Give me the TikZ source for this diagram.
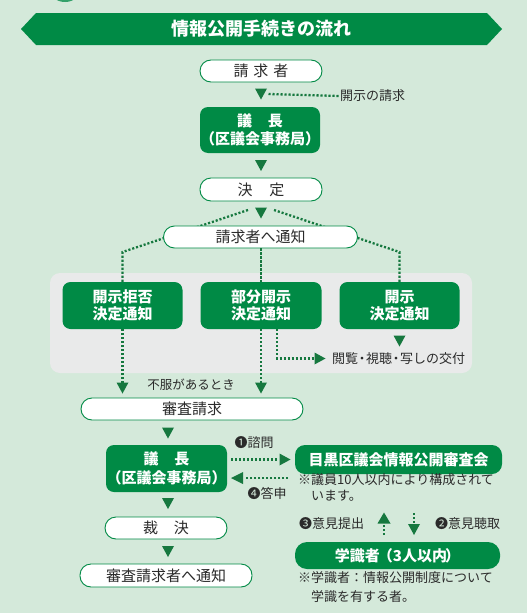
\documentclass[tikz,border=0pt]{standalone}
\usepackage{fontspec}
\setmainfont{Noto Sans CJK JP}
\usetikzlibrary{calc}
\definecolor{bg}{HTML}{D4E9DA}
\definecolor{gr}{HTML}{008A45}
\definecolor{dg}{HTML}{16783F}
\definecolor{panel}{HTML}{E9EAEA}
\definecolor{txt}{HTML}{2A2A2A}
\tikzset{
 wbox/.style={draw=gr, line width=0.9pt, fill=white, rounded corners=11pt, inner sep=0pt, text=txt, font=\fontsize{15}{17}\selectfont},
 gbox/.style={fill=gr, rounded corners=8pt, inner sep=0pt, text=white, align=center, font=\bfseries\fontsize{15}{17}\selectfont},
 dots/.style={dg, line width=2.3pt, dash pattern=on 2.1pt off 1.9pt},
 lbl/.style={text=txt, inner sep=0pt, font=\fontsize{13}{15}\selectfont},
}
\newcommand\mytrid[2]{\fill[dg] (#1-6,#2-5.5) -- (#1+6,#2-5.5) -- (#1,#2+5.5) -- cycle;}
\newcommand\mytriu[2]{\fill[dg] (#1-6.5,#2+5.5) -- (#1+6.5,#2+5.5) -- (#1,#2-5.5) -- cycle;}
\newcommand\mytrir[2]{\fill[dg] (#1-5.5,#2-6) -- (#1-5.5,#2+6) -- (#1+5.5,#2) -- cycle;}
\newcommand\mytril[2]{\fill[dg] (#1+6,#2-6) -- (#1+6,#2+6) -- (#1-6,#2) -- cycle;}
\begin{document}
\begin{tikzpicture}[x=1pt,y=-1pt]
\fill[bg] (0,0) rectangle (527,613);
\useasboundingbox (0,0) rectangle (527,613);
\fill[gr!80!white] (65,-12) ellipse (16 and 14);
% title banner
\fill[gr] (21,29) -- (36,13) -- (487,13) -- (502,29) -- (487,45) -- (36,45) -- cycle;
\node[text=white, inner sep=0pt, font=\bfseries\fontsize{18}{20}\selectfont] (title) at (261,29) {情報公開手続きの流れ};

% top chain
\node[wbox, minimum width=122, minimum height=22] (req) at (261,71) {請\hspace{5pt}求\hspace{5pt}者};
\mytrid{261}{94}
\node[lbl, anchor=west] (reqlbl) at (340,96) {開示の請求};
\draw[dots] (268.5,94) -- (reqlbl.west);
\node[gbox, minimum width=120, minimum height=46] (chair) at (260,130) {議\hspace{16pt}長\\[1pt]（区議会事務局）};
\mytrid{261}{165.5}
\node[wbox, minimum width=122, minimum height=23] (dec) at (261,189.5) {決\hspace{17pt}定};
\mytrid{261}{213}

% panel
\fill[panel, rounded corners=10pt] (50,273) rectangle (472,373);

% branch lines (behind notify box)
\coordinate (ls) at (248,210);
\coordinate (rs) at (274,210);
\coordinate (lc) at (122.5,252);
\coordinate (rc) at (399.5,252);
\node[gbox, minimum width=120, minimum height=47] (refuse) at (122.5,305.5) {開示拒否\\決定通知};
\node[gbox, minimum width=121, minimum height=47] (part) at (261,305.5) {部分開示\\決定通知};
\node[gbox, minimum width=120, minimum height=47] (disc) at (399.5,305.5) {開示\\決定通知};
\draw[dots] (ls) -- (lc) -- (refuse.north);
\draw[dots] (rs) -- (rc) -- (disc.north);
\node[wbox, minimum width=194, minimum height=22] (notify) at (260.5,237) {請求者へ通知};
\draw[dots] (notify.south -| part.north) -- (part.north);

% under panel boxes
\mytrid{399.5}{341}
\node[lbl, anchor=west] (view) at (332,359) {閲覧\kern-2.5pt・\kern-2.5pt視聴\kern-2.5pt・\kern-2.5pt写しの交付};
\coordinate (vc) at (277,358.5);
\coordinate (vt) at (315,358.5);
\draw[dots] (part.south -| vc) -- (vc) -- (vt);
\mytrir{320}{358.5}

\node[wbox, minimum width=222, minimum height=22] (exam) at (192,409) {審査請求};
\coordinate (ea) at (122.5,383);
\coordinate (eb) at (261,383);
\draw[dots] (refuse.south) -- (ea);
\draw[dots] (part.south) -- (eb);
\mytrid{122.5}{388}
\mytrid{261}{388}
\node[lbl, font=\fontsize{12.5}{14}\selectfont] (dissat) at (191,385) {不服があるとき};

% lower chain
\mytrid{168}{433}
\node[gbox, minimum width=121, minimum height=47] (chair2) at (166.5,468.5) {議\hspace{16pt}長\\[2pt]（区議会事務局）};
\node[gbox, rounded corners=10pt, minimum width=207, minimum height=29] (council) at (398.5,459.5) {目黒区議会情報公開審査会};
\coordinate (r1) at (279,459.5);
\draw[dots] ([xshift=4pt]chair2.east |- council.west) -- (r1);
\mytrir{285}{459.5}
\node[lbl] (q1) at (254,443) {❶諮問};
\coordinate (l1s) at (288,478);
\coordinate (l1e) at (245,478);
\draw[dots] (l1s) -- (l1e);
\mytril{237}{478}
\node[lbl] (a4) at (267,493) {❹答申};
\node[lbl, anchor=north west, align=left, font=\fontsize{13}{16}\selectfont] (note1) at (298,473) {※議員10人以内により構成されて\\\hspace{13pt}います。};

\mytrid{168}{503.5}
\node[wbox, minimum width=122, minimum height=22] (verdict) at (166,528) {裁\hspace{16pt}決};
\mytrid{168}{551.5}
\node[wbox, minimum width=172, minimum height=23] (notify2) at (166,575.5) {審査請求者へ通知};

\node[gbox, rounded corners=12pt, minimum width=205, minimum height=27] (scholar) at (397.5,555.5) {学識者\kern-2pt（3人以内\kern-2pt）};
\node[lbl, anchor=west] (op3) at (299,523.5) {❸意見提出};
\node[lbl, anchor=west] (op2) at (435,524) {❷意見聴取};
\coordinate (up) at (384,535);
\coordinate (dn) at (414,513);
\draw[dots] (up) -- ++(0,-11);
\mytriu{384}{518}
\draw[dots] (dn) -- ++(0,11);
\mytrid{414}{529.5}
\node[lbl, anchor=north west, align=left, font=\fontsize{13}{19}\selectfont] (note2) at (298,571) {※学識者：情報公開制度について\\\hspace{13pt}学識を有する者。};
\end{tikzpicture}
\end{document}
